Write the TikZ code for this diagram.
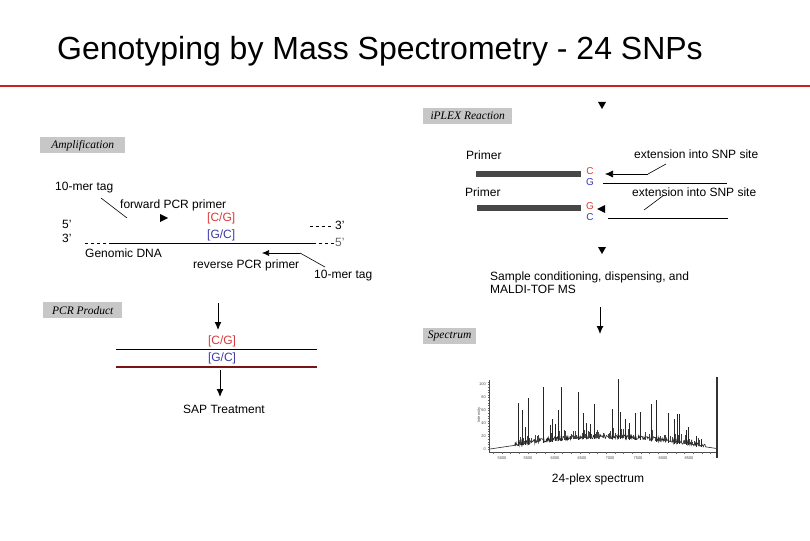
\documentclass[tikz,border=0pt]{standalone}
\usepackage{fontspec}
\setmainfont{Liberation Sans}
\newfontfamily\tagserif{Liberation Serif}
\usetikzlibrary{arrows.meta}
\definecolor{snpred}{HTML}{D83A3A}
\definecolor{snpblue}{HTML}{3A3AAA}
\definecolor{titlered}{HTML}{CC2020}
\definecolor{darkred}{HTML}{7A1414}
\begin{document}
\begin{tikzpicture}[x=1pt,y=-1pt,
  txt/.style={font=\fontsize{12}{13}\selectfont, inner sep=0pt, anchor=west, text height=9pt, text depth=2.5pt},
  ctxt/.style={txt, anchor=center},
  small/.style={font=\fontsize{10}{11}\selectfont, inner sep=0pt, text height=7pt, text depth=0pt},
  tagbox/.style={fill=black!22, font=\tagserif\itshape\fontsize{11.5}{12}\selectfont, inner sep=0pt, anchor=north west, minimum height=16pt},
  flow/.style={-{Latex[length=8pt,width=7pt]}, line width=1pt},
  tri/.style={fill=black},
  leader/.style={line width=0.6pt},
  strand/.style={line width=0.8pt},
  bar/.style={line width=6pt, black!72},
  tiny/.style={font=\fontsize{4}{4.5}\selectfont, inner sep=0pt, text=black!70}
]
\useasboundingbox (0,0) rectangle (810,540);

% title
\node[anchor=base west, inner sep=0pt, font=\fontsize{32}{35}\selectfont] (title) at (57,60) {Genotyping by Mass Spectrometry - 24 SNPs};
\coordinate (rl) at (0,86); \coordinate (rr) at (810,86);
\draw[titlered, line width=2.5pt] (rl) -- (rr);

% ---------- Amplification ----------
\node[tagbox, minimum width=85pt] (amp) at (40,137) {Amplification};
\node[txt] (tag1) at (55,187) {10-mer tag};
\node[txt] (fwd) at (120,205) {forward PCR primer};
\coordinate (l1a) at (101,198); \coordinate (l1b) at (127,218);
\draw[leader] (l1a) -- (l1b);
\fill[tri] (160,214) -- (168,218) -- (160,222) -- cycle;
\node[txt, text=snpred] (cg1) at (207,218) {[C/G]};
\node[txt, text=snpblue] (gc1) at (207,235) {[G/C]};
\node[txt] (p5a) at (62,225) {5'};
\node[txt] (p3a) at (62,239) {3'};
\node[txt] (p3b) at (335,226) {3'};
\node[txt, text=black!60] (p5b) at (335,243) {5'};
\coordinate (d1a) at (310,226); \coordinate (d1b) at (334,226);
\draw[strand, dash pattern=on 3pt off 3pt] (d1a) -- (d1b);
\coordinate (g0) at (85,243); \coordinate (g1) at (110,243); \coordinate (g2) at (313,243); \coordinate (g3) at (334,243);
\draw[strand, dash pattern=on 3pt off 3pt] (g0) -- (g1);
\draw[strand] (g1) -- (g2);
\draw[strand, dash pattern=on 3pt off 3pt] (g2) -- (g3);
\node[txt] (gdna) at (85,254) {Genomic DNA};
\coordinate (rv0) at (300,253); \coordinate (rv1) at (262,253); \coordinate (rv2) at (325,267);
\draw[leader, -{Latex[length=7pt,width=6pt]}] (rv0) -- (rv1);
\draw[leader] (rv0) -- (rv2);
\node[txt] (rev) at (193,265) {reverse PCR primer};
\node[txt] (tag2) at (314,275) {10-mer tag};

% ---------- PCR Product ----------
\node[tagbox, minimum width=79pt] (pcr) at (43,302) {PCR Product};
\coordinate (a1s) at (218,303); \coordinate (a1e) at (218,330);
\draw[flow] (a1s) -- (a1e);
\node[ctxt, text=snpred] (cg2) at (222,341) {[C/G]};
\coordinate (pl1) at (116,349); \coordinate (pr1) at (317,349);
\draw[line width=1pt] (pl1) -- (pr1);
\node[ctxt, text=snpblue] (gc2) at (222,358) {[G/C]};
\coordinate (pl2) at (116,367); \coordinate (pr2) at (317,367);
\draw[line width=1.6pt, darkred] (pl2) -- (pr2);
\coordinate (a2s) at (220,370); \coordinate (a2e) at (220,397);
\draw[flow] (a2s) -- (a2e);
\node[ctxt] (sap) at (224,410) {SAP Treatment};

% ---------- iPLEX Reaction ----------
\fill[tri] (598,102) -- (606,102) -- (602,109) -- cycle;
\node[tagbox, minimum width=89pt] (iplex) at (423,108) {iPLEX Reaction};
\node[txt] (pr1t) at (466,156) {Primer};
\coordinate (b1a) at (476,174); \coordinate (b1b) at (581,174);
\draw[bar] (b1a) -- (b1b);
\node[small, text=snpred] (c1) at (590,171) {C};
\node[small, text=snpblue] (g1n) at (590,182) {G};
\coordinate (e1a) at (648,174); \coordinate (e1b) at (605,174); \coordinate (e1c) at (666,164);
\draw[leader, -{Latex[length=8pt,width=7pt]}] (e1a) -- (e1b);
\draw[leader] (e1a) -- (e1c);
\node[txt] (ext1) at (634,155) {extension into SNP site};
\coordinate (t1a) at (603,183); \coordinate (t1b) at (727,183);
\draw[strand] (t1a) -- (t1b);

\node[txt] (pr2t) at (465,193) {Primer};
\coordinate (b2a) at (477,208); \coordinate (b2b) at (581,208);
\draw[bar] (b2a) -- (b2b);
\node[small, text=snpred] (g2n) at (590,206) {G};
\node[small, text=snpblue] (c2) at (590,217) {C};
\fill[tri] (597,209) -- (605,205) -- (605,213) -- cycle;
\coordinate (e2a) at (644,210); \coordinate (e2b) at (664,195);
\draw[leader] (e2a) -- (e2b);
\node[txt] (ext2) at (632,193) {extension into SNP site};
\coordinate (t2a) at (608,218); \coordinate (t2b) at (728,218);
\draw[strand] (t2a) -- (t2b);

\fill[tri] (598,247) -- (606,247) -- (602,254) -- cycle;
\node[txt] (samp1) at (490,277) {Sample conditioning, dispensing, and};
\node[txt] (samp2) at (490,290) {MALDI-TOF MS};

% ---------- Spectrum ----------
\coordinate (a3s) at (600,307); \coordinate (a3e) at (600,334);
\draw[flow] (a3s) -- (a3e);
\node[tagbox, minimum width=53pt] (spec) at (423,328) {Spectrum};

% axes
\coordinate (yax0) at (489,380); \coordinate (orig) at (489,452); \coordinate (xax1) at (716,452);
\draw[line width=0.4pt, black!70] (yax0) -- (orig) -- (xax1);
\foreach \yy in {382,384.6,...,450} \draw[line width=0.3pt, black!60] (487.5,\yy) -- (489,\yy);
\foreach \yy/\lab in {384/100,397/80,410/60,423/40,436/20,449/0}
  \node[tiny, anchor=east] at (486,\yy) {\lab};
\foreach \xx in {493,501.7,...,716} \draw[line width=0.3pt, black!60] (\xx,452) -- (\xx,454);
\foreach \xx/\lab in {502/5000,528/5500,555/6000,582/6500,610/7000,638/7500,663/8000,689/8500}
  \node[tiny] at (\xx,458) {\lab};
\node[tiny, rotate=90] (ilab) at (479,415) {Intensity};
\coordinate (rb0) at (717,377); \coordinate (rb1) at (717,458);
\draw[line width=2.2pt, black!80] (rb0) -- (rb1);

% baseline with noise
\pgfmathsetseed{11}
\draw[line width=0.6pt, black!85] plot[domain=0:226, samples=450, variable=\t]
  (490+\t, {449 - 11*sin(\t/230*180) - (\t>25)*(\t<215)*(1.5+2.2*rand)});
% small noise spikes
\foreach \k in {1,...,90}
{
  \pgfmathsetmacro{\sx}{517+184*rnd}
  \pgfmathsetmacro{\sb}{449 - 11*sin((\sx-490)/230*180)}
  \pgfmathsetmacro{\st}{\sb - 3 - 7*rnd}
  \draw[line width=0.5pt, black!75] (\sx,\sb) -- (\sx,\st);
}
% peaks
\foreach \px/\py in {518.3/403.3, 522.3/410, 525/426.7, 528.3/397.7, 543.3/387.3, 550.7/425, 552.7/419.3, 555/424, 558.3/410, 561.7/387.3, 578.3/391.7, 583.3/412.7, 586.7/422.7, 590.7/424, 594/404, 612.7/409, 618.3/379.3, 620.7/412.3, 625/419.3, 629.3/423.3, 635/412.7, 640/412, 651.7/404, 656.7/400, 668.3/413.3, 674.3/419.3, 677.7/414, 679.3/414, 686/430, 688.3/427.3, 696.7/436, 701.7/439.3}
{
  \pgfmathsetmacro{\bl}{449 - 11*sin((\px-490)/230*180) + 1}
  \draw[line width=0.9pt, black!85] (\px,\bl) -- (\px,\py);
}
\node[ctxt] (plex) at (598,479) {24-plex spectrum};
\end{tikzpicture}
\end{document}
